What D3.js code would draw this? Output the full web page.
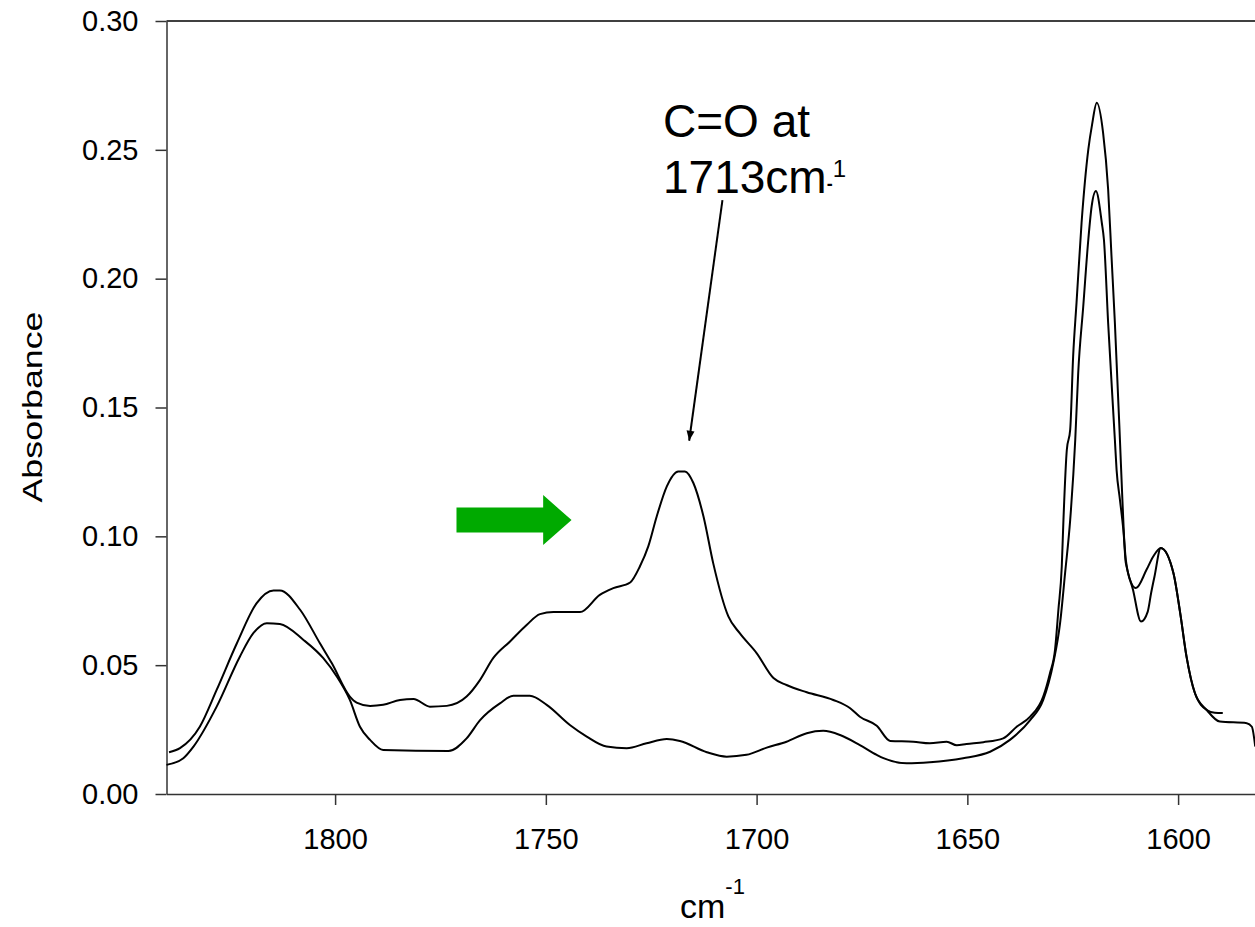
<!DOCTYPE html>
<html>
<head>
<meta charset="utf-8">
<script src="https://cdn.jsdelivr.net/npm/d3@7"></script>
<style>
  body { margin: 0; background: #fff; }
  svg { display: block; font-family: "Liberation Sans", Arial, sans-serif; }
  .axis text { font-size: 29px; fill: #000; }
  .axis path, .axis line { stroke: #333; stroke-width: 1.5; }
  .spectrum { fill: none; stroke: #000; stroke-width: 2; stroke-linejoin: round; }
</style>
</head>
<body>
<svg id="chart" width="1255" height="927"></svg>
<script>
// spectrum with the C=O band (upper one in the middle)
let waveA = [1839.4, 1836.8, 1832.1, 1828.1, 1823.3, 1818.6, 1814.6, 1813.1, 1808.3, 1803.6,
  1800.8, 1796.5, 1794.9, 1791.7, 1788.6, 1784.6, 1781.4, 1777.5, 1773.5, 1768.8,
  1765.6, 1762.5, 1758.5, 1754.5, 1751.4, 1748.2, 1741.9, 1737.2, 1734.0, 1730.0,
  1727.7, 1725.7, 1723.7, 1721.3, 1718.6, 1717.0, 1715.0, 1712.6, 1710.3, 1706.7,
  1704.0, 1700.0, 1696.0, 1692.9, 1688.1, 1681.8, 1677.8, 1675.5, 1671.5, 1668.3,
  1662.8, 1658.9, 1654.9, 1652.5, 1650.2, 1646.2, 1641.5, 1638.3, 1635.1, 1632.0,
  1630.4, 1629.2, 1628.4, 1627.6, 1627.2, 1626.4, 1625.6, 1624.9, 1624.1, 1622.9,
  1621.3, 1620.4, 1619.3, 1617.8, 1616.6, 1615.8, 1615.0, 1613.8, 1613.2, 1612.4,
  1610.0, 1607.5, 1605.9, 1604.1, 1601.1, 1599.5, 1598.0, 1596.0, 1593.2, 1590.1,
  1583.7, 1582.5, 1581.7];
let absA = [0.0162, 0.0178, 0.0261, 0.0404, 0.0585, 0.0741, 0.0790, 0.0790, 0.0715, 0.0585,
  0.0508, 0.0378, 0.0355, 0.0342, 0.0346, 0.0365, 0.0369, 0.0339, 0.0342, 0.0378,
  0.0443, 0.0527, 0.0592, 0.0657, 0.0698, 0.0706, 0.0706, 0.0773, 0.0799, 0.0821,
  0.0883, 0.0961, 0.1077, 0.1194, 0.1252, 0.1252, 0.1207, 0.1077, 0.0896, 0.0689,
  0.0624, 0.0547, 0.0450, 0.0423, 0.0395, 0.0365, 0.0333, 0.0300, 0.0265, 0.0206,
  0.0203, 0.0197, 0.0203, 0.0189, 0.0194, 0.0201, 0.0216, 0.0261, 0.0300, 0.0378,
  0.0469, 0.0559, 0.0715, 0.0883, 0.1064, 0.1336, 0.1414, 0.1699, 0.1906, 0.2217,
  0.2502, 0.2599, 0.2683, 0.2567, 0.2347, 0.2087, 0.1829, 0.1375, 0.1136, 0.0896,
  0.0799, 0.0870, 0.0922, 0.0955, 0.0857, 0.0702, 0.0533, 0.0391, 0.0326, 0.0281,
  0.0275, 0.0261, 0.0184];

// reference spectrum (lower one in the middle)
let waveB = [1840.0, 1836.0, 1833.6, 1828.1, 1822.6, 1819.4, 1816.2, 1813.1, 1807.5, 1802.8,
  1799.6, 1796.5, 1794.1, 1791.7, 1788.6, 1773.1, 1768.8, 1765.6, 1760.9, 1757.7,
  1753.8, 1749.8, 1744.3, 1740.3, 1735.6, 1730.8, 1726.1, 1721.3, 1718.2, 1711.8,
  1707.1, 1702.4, 1697.6, 1692.9, 1688.1, 1684.2, 1680.2, 1675.5, 1671.5, 1669.9,
  1664.4, 1658.9, 1651.0, 1644.6, 1639.9, 1635.1, 1632.0, 1629.6, 1628.0, 1626.8,
  1625.6, 1624.4, 1623.7, 1622.5, 1621.3, 1620.5, 1619.5, 1618.1, 1617.6, 1616.6,
  1615.0, 1614.6, 1613.8, 1613.0, 1612.4, 1610.7, 1608.8, 1607.2, 1606.4, 1605.6,
  1604.1, 1601.1, 1599.5, 1598.0, 1596.0, 1593.2, 1591.3, 1589.4];
let absB = [0.0113, 0.0139, 0.0184, 0.0339, 0.0533, 0.0624, 0.0663, 0.0660, 0.0598, 0.0527,
  0.0456, 0.0365, 0.0261, 0.0210, 0.0171, 0.0167, 0.0216, 0.0287, 0.0352, 0.0381,
  0.0381, 0.0346, 0.0268, 0.0223, 0.0184, 0.0178, 0.0197, 0.0213, 0.0206, 0.0162,
  0.0145, 0.0152, 0.0180, 0.0203, 0.0236, 0.0245, 0.0229, 0.0190, 0.0152, 0.0139,
  0.0119, 0.0123, 0.0139, 0.0164, 0.0210, 0.0287, 0.0365, 0.0509, 0.0663, 0.0859,
  0.1064, 0.1375, 0.1634, 0.1893, 0.2152, 0.2282, 0.2340, 0.2217, 0.2152, 0.1829,
  0.1375, 0.1259, 0.1142, 0.1026, 0.0909, 0.0793, 0.0669, 0.0708, 0.0780, 0.0844,
  0.0955, 0.0857, 0.0702, 0.0533, 0.0391, 0.0326, 0.0315, 0.0314];

let xTicks = [1800, 1750, 1700, 1650, 1600];
let yTicks = [0, 0.05, 0.10, 0.15, 0.20, 0.25, 0.30];
let xLabel = "cm";
let yLabel = "Absorbance";
let noteLines = ["C=O at", "1713cm"];

let width = 1255;
let height = 927;
let svg = d3.select("#chart");

let xScale = d3.scaleLinear().domain([1840, 1580]).range([166.5, 1262.4]);
let yScale = d3.scaleLinear().domain([0, 0.30]).range([794, 21]);

// top frame line
svg.append("line")
  .attr("x1", 166.5).attr("x2", width)
  .attr("y1", yScale(0.30)).attr("y2", yScale(0.30))
  .attr("stroke", "#000").attr("stroke-width", 1.5);

// axes
let x_axis = d3.axisBottom(xScale).tickValues(xTicks).tickSize(11).tickPadding(23)
  .tickSizeOuter(0).tickFormat(d3.format("d"));
let y_axis = d3.axisLeft(yScale).tickValues(yTicks).tickSize(11).tickPadding(17)
  .tickSizeOuter(0).tickFormat(d3.format(".2f"));

svg.append("g").attr("class", "axis")
  .attr("transform", `translate(0,${yScale(0)})`)
  .call(x_axis);
svg.append("g").attr("class", "axis")
  .attr("transform", `translate(${xScale(1840)},0)`)
  .call(y_axis);
svg.selectAll(".axis .domain").attr("stroke", "#333");

// spectra
let line = d3.line()
  .x(d => xScale(d[0]))
  .y(d => yScale(d[1]))
  .curve(d3.curveMonotoneX);

[[waveA, absA], [waveB, absB]].forEach(function (s) {
  svg.append("path")
    .attr("class", "spectrum")
    .attr("d", line(d3.zip(s[0], s[1])));
});

// axis titles
svg.append("text")
  .attr("transform", `translate(41.5,407) rotate(-90)`)
  .attr("text-anchor", "middle")
  .attr("font-size", 28)
  .attr("textLength", 191)
  .attr("lengthAdjust", "spacingAndGlyphs")
  .text(yLabel);

let xt = svg.append("text")
  .attr("x", 680).attr("y", 918)
  .attr("font-size", 34);
xt.append("tspan").text(xLabel);
xt.append("tspan").attr("font-size", 22).attr("dy", -24).text("-1");

// annotation text
let note = svg.append("text")
  .attr("x", 663).attr("y", 136.7)
  .attr("font-size", 46);
note.text(noteLines[0]);
let note2 = svg.append("text")
  .attr("x", 663).attr("y", 193.3)
  .attr("font-size", 46);
note2.append("tspan").text(noteLines[1]);
note2.append("tspan").attr("font-size", 18).attr("font-weight", "bold").attr("dy", -3).text("-");
note2.append("tspan").attr("font-size", 24).attr("dy", -13).text("1");

// pointer from label to the C=O band
let p0 = [xScale(1708.1), yScale(0.2305)];
let p1 = [xScale(1716.0), yScale(0.1371)];
svg.append("line")
  .attr("x1", p0[0]).attr("y1", p0[1])
  .attr("x2", p1[0]).attr("y2", p1[1])
  .attr("stroke", "#000").attr("stroke-width", 2);
let ang = Math.atan2(p1[1] - p0[1], p1[0] - p0[0]);
let hl = 10, hw = 4;
let bx = p1[0] - hl * Math.cos(ang), by = p1[1] - hl * Math.sin(ang);
svg.append("path")
  .attr("d", `M${p1[0]},${p1[1]}L${bx - hw * Math.sin(ang)},${by + hw * Math.cos(ang)}L${bx + hw * Math.sin(ang)},${by - hw * Math.cos(ang)}Z`)
  .attr("fill", "#000");

// green block arrow
let ax0 = xScale(1771.2), ax1 = xScale(1743.9), ay = yScale(0.1063);
let headLen = 28.4, bodyH = 12.5, headH = 25;
svg.append("path")
  .attr("d", `M${ax0},${ay - bodyH}L${ax1 - headLen},${ay - bodyH}L${ax1 - headLen},${ay - headH}L${ax1},${ay}L${ax1 - headLen},${ay + headH}L${ax1 - headLen},${ay + bodyH}L${ax0},${ay + bodyH}Z`)
  .attr("fill", "#00aa00");
</script>
</body>
</html>
